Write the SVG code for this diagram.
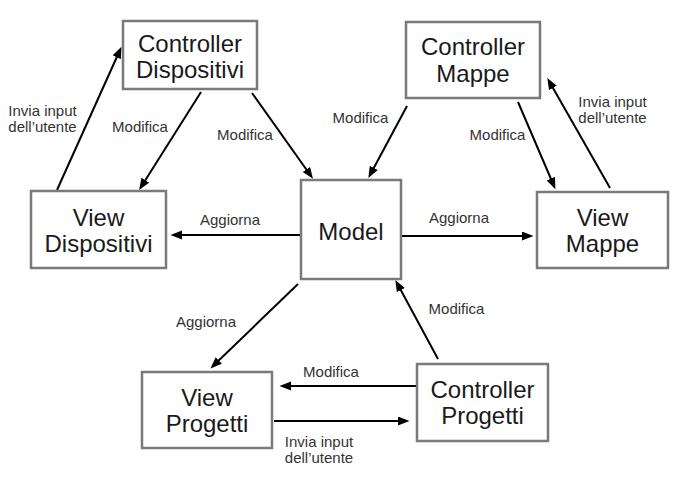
<svg xmlns="http://www.w3.org/2000/svg" width="677" height="480" viewBox="0 0 677 480">
<style>
.box{fill:#fff;stroke:#7a7a7a;stroke-width:2.5}
.nt{font-family:"Liberation Sans",Arial,sans-serif;font-size:24px;fill:#1a1a1a;text-anchor:middle}
.lb{font-family:"Liberation Sans",Arial,sans-serif;font-size:15px;fill:#333;text-anchor:middle}
.ar{stroke:#000;stroke-width:2;fill:none;marker-end:url(#ah)}
</style>
<defs>
<marker id="ah" markerUnits="userSpaceOnUse" markerWidth="13" markerHeight="10" refX="8" refY="4.5" orient="auto">
<path d="M0,0 L11.5,4.5 L0,9 z" fill="#000"/>
</marker>
</defs>
<rect width="677" height="480" fill="#fff"/>
<g id="connectors">
<line class="ar" x1="57" y1="190" x2="120" y2="50"/>
<line class="ar" x1="201" y1="92" x2="141" y2="187"/>
<line class="ar" x1="252" y1="93" x2="311" y2="176"/>
<line class="ar" x1="301" y1="235" x2="174" y2="235"/>
<line class="ar" x1="407" y1="106" x2="370" y2="175"/>
<line class="ar" x1="518" y1="102" x2="554" y2="186"/>
<line class="ar" x1="610" y1="188" x2="549" y2="81"/>
<line class="ar" x1="401" y1="236" x2="530" y2="236"/>
<line class="ar" x1="298" y1="284" x2="213" y2="366"/>
<line class="ar" x1="438" y1="359" x2="397" y2="283"/>
<line class="ar" x1="416" y1="386" x2="283" y2="386"/>
<line class="ar" x1="274" y1="421" x2="406" y2="421"/>
<text class="lb" x="42.5" y="116">Invia input</text>
<text class="lb" x="42.5" y="132">dell’utente</text>
<text class="lb" x="140" y="131.5">Modifica</text>
<text class="lb" x="245" y="140">Modifica</text>
<text class="lb" x="230" y="225">Aggiorna</text>
<text class="lb" x="360.5" y="123">Modifica</text>
<text class="lb" x="497.5" y="140">Modifica</text>
<text class="lb" x="612.5" y="107">Invia input</text>
<text class="lb" x="612.5" y="123">dell’utente</text>
<text class="lb" x="459" y="223">Aggiorna</text>
<text class="lb" x="206" y="327">Aggiorna</text>
<text class="lb" x="456.5" y="314">Modifica</text>
<text class="lb" x="331" y="377">Modifica</text>
<text class="lb" x="319" y="446.5">Invia input</text>
<text class="lb" x="319" y="463">dell’utente</text>
</g>
<g id="ctrl-dispositivi">
<rect class="box" x="123" y="21" width="134" height="68"/>
<text class="nt" x="190" y="52">Controller</text>
<text class="nt" x="190" y="78">Dispositivi</text>
</g>
<g id="view-dispositivi">
<rect class="box" x="31" y="191" width="135" height="77"/>
<text class="nt" x="98.5" y="226">View</text>
<text class="nt" x="98.5" y="252">Dispositivi</text>
</g>
<g id="model">
<rect class="box" x="301" y="180" width="100" height="99"/>
<text class="nt" x="351" y="240">Model</text>
</g>
<g id="ctrl-mappe">
<rect class="box" x="406" y="22" width="134" height="76"/>
<text class="nt" x="473" y="55">Controller</text>
<text class="nt" x="473" y="82">Mappe</text>
</g>
<g id="view-mappe">
<rect class="box" x="537" y="192" width="131" height="76"/>
<text class="nt" x="602.5" y="226">View</text>
<text class="nt" x="602.5" y="252">Mappe</text>
</g>
<g id="view-progetti">
<rect class="box" x="142" y="372" width="130" height="76"/>
<text class="nt" x="207" y="406">View</text>
<text class="nt" x="207" y="432">Progetti</text>
</g>
<g id="ctrl-progetti">
<rect class="box" x="417" y="364" width="131" height="77"/>
<text class="nt" x="482.5" y="398">Controller</text>
<text class="nt" x="482.5" y="424">Progetti</text>
</g>
</svg>
